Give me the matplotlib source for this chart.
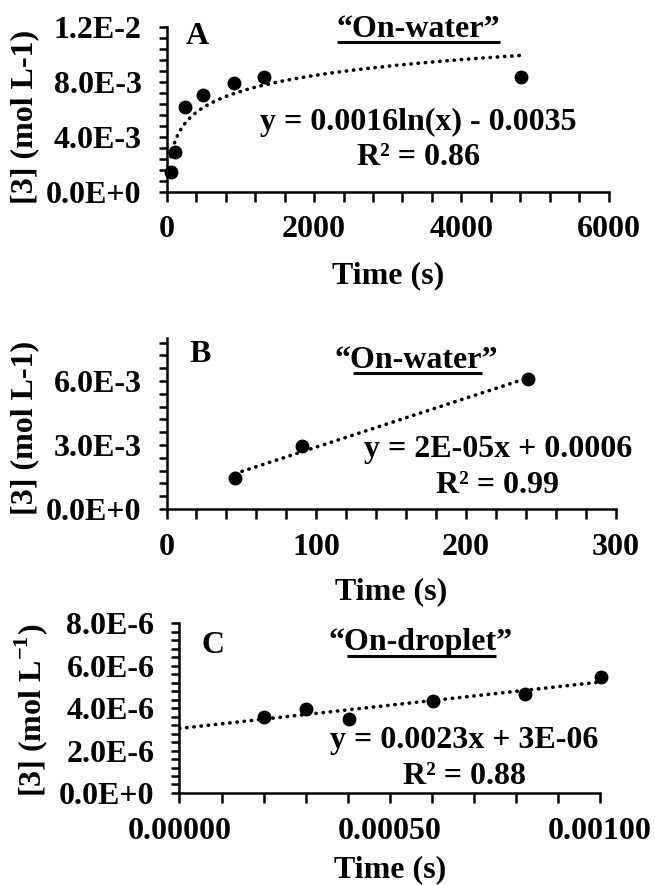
import numpy as np
import matplotlib
matplotlib.use('Agg')
import matplotlib.pyplot as plt
from matplotlib.ticker import MultipleLocator, FuncFormatter, FormatStrFormatter

plt.rcParams['font.family'] = 'Liberation Serif'
plt.rcParams['font.weight'] = 'bold'
plt.rcParams['axes.labelweight'] = 'bold'
plt.rcParams['font.size'] = 23
plt.rcParams['mathtext.fontset'] = 'custom'
plt.rcParams['mathtext.rm'] = 'Liberation Serif:bold'
plt.rcParams['mathtext.bf'] = 'Liberation Serif:bold'

# panel A - "On-water", long times
time_a = [58, 113, 248, 497, 913, 1320, 4808]
conc_a = [1.45e-3, 2.91e-3, 6.18e-3, 7.03e-3, 7.88e-3, 8.32e-3, 8.33e-3]

# panel B - "On-water", short times
time_b = [45.8, 90.5, 241.3]
conc_b = [1.45e-3, 2.95e-3, 6.08e-3]

# panel C - "On-droplet"
time_c = [0.00020, 0.00030, 0.000404, 0.000602, 0.000821, 0.001002]
conc_c = [3.59e-6, 3.98e-6, 3.51e-6, 4.35e-6, 4.66e-6, 5.45e-6]


def sci_label(v, pos):
    m, e = f"{v:.1E}".split('E')
    e = int(e)
    return f"{m}E{'+' if e >= 0 else '-'}{abs(e)}"


def style(ax):
    for s in ['top', 'right']:
        ax.spines[s].set_visible(False)
    for s in ['left', 'bottom']:
        ax.spines[s].set_linewidth(1.8)
    ax.tick_params(axis='both', which='both', direction='out', width=1.8)
    ax.tick_params(axis='x', which='both', length=7, pad=10)
    ax.tick_params(axis='y', which='both', length=6, pad=12)
    ax.yaxis.set_major_formatter(FuncFormatter(sci_label))


def underline(ax, x0, x1, y):
    ax.plot([x0, x1], [y, y], transform=ax.transAxes, color='black',
            lw=2.2, clip_on=False, solid_capstyle='butt')


dots = dict(color='black', lw=2.6, linestyle=(0, (0.1, 1.9)), dash_capstyle='round')
marks = dict(color='black', marker='o', ms=9, linestyle='none', zorder=3, clip_on=False)

fig = plt.figure(figsize=(6.55, 8.85), dpi=100)

#############################################  A  #############################################
ax = fig.add_axes([0.2545, 0.7834, 0.675, 0.1864])
style(ax)
coef = np.polyfit(np.log(time_a), conc_a, 1)
tt = np.linspace(min(time_a), max(time_a), 300)
ax.plot(tt, coef[0] * np.log(tt) + coef[1], **dots)
ax.plot(time_a, conc_a, **marks)
ax.set_xlim(0, 6000)
ax.set_ylim(0, 0.012)
ax.xaxis.set_major_locator(MultipleLocator(2000))
ax.xaxis.set_minor_locator(MultipleLocator(400))
ax.yaxis.set_major_locator(MultipleLocator(0.004))
ax.yaxis.set_minor_locator(MultipleLocator(0.0008))
ax.set_xlabel('Time (s)')
ax.set_ylabel('[3] (mol L-1)')
ax.xaxis.set_label_coords(0.50, -0.42)
ax.yaxis.set_label_coords(-0.289, 0.456)
ax.text(0.0685, 0.895, 'A', transform=ax.transAxes, ha='center', va='baseline')
ax.text(0.569, 0.9376, '\u201cOn-water\u201d', transform=ax.transAxes, ha='center', va='baseline')
underline(ax, 0.3846, 0.7533, 0.909)
ax.text(0.569, 0.374, 'y = 0.0016ln(x) - 0.0035', transform=ax.transAxes, ha='center', va='baseline')
ax.text(0.569, 0.162, 'R\u00b2 = 0.86', transform=ax.transAxes, ha='center', va='baseline')

#############################################  B  #############################################
ax = fig.add_axes([0.2542, 0.4249, 0.686, 0.1929])
style(ax)
coef = np.polyfit(time_b, conc_b, 1)
tt = np.array([min(time_b), max(time_b)])
ax.plot(tt, coef[0] * tt + coef[1], **dots)
ax.plot(time_b, conc_b, **marks)
ax.set_xlim(0, 300)
ax.set_ylim(0, 0.008)
ax.xaxis.set_major_locator(MultipleLocator(100))
ax.xaxis.set_minor_locator(MultipleLocator(20))
ax.yaxis.set_major_locator(MultipleLocator(0.003))
ax.yaxis.set_minor_locator(MultipleLocator(0.0006))
ax.set_xlabel('Time (s)')
ax.set_ylabel('[3] (mol L-1)')
ax.xaxis.set_label_coords(0.50, -0.40)
ax.yaxis.set_label_coords(-0.284, 0.477)
ax.text(0.0745, 0.859, 'B', transform=ax.transAxes, ha='center', va='baseline')
ax.text(0.5557, 0.824, '\u201cOn-water\u201d', transform=ax.transAxes, ha='center', va='baseline')
underline(ax, 0.4142, 0.7019, 0.795)
ax.text(0.737, 0.306, 'y = 2E-05x + 0.0006', transform=ax.transAxes, ha='center', va='baseline')
ax.text(0.737, 0.092, 'R\u00b2 = 0.99', transform=ax.transAxes, ha='center', va='baseline')

#############################################  C  #############################################
ax = fig.add_axes([0.274, 0.104, 0.642, 0.1917])
style(ax)
coef = np.polyfit(time_c, conc_c, 1)
tt = np.array([0, max(time_c)])
ax.plot(tt, coef[0] * tt + coef[1], **dots)
ax.plot(time_c, conc_c, **marks)
ax.set_xlim(0, 0.001)
ax.set_ylim(0, 8e-6)
ax.xaxis.set_major_locator(MultipleLocator(0.0005))
ax.xaxis.set_minor_locator(MultipleLocator(0.0001))
ax.xaxis.set_major_formatter(FormatStrFormatter('%.5f'))
ax.yaxis.set_major_locator(MultipleLocator(2e-6))
ax.yaxis.set_minor_locator(MultipleLocator(4e-7))
ax.set_xlabel('Time (s)')
ax.set_ylabel(r'[3] (mol L$^{\mathbf{-1}}$)')
ax.xaxis.set_label_coords(0.50, -0.365)
ax.yaxis.set_label_coords(-0.308, 0.489)
ax.text(0.0797, 0.823, 'C', transform=ax.transAxes, ha='center', va='baseline')
ax.text(0.573, 0.843, '\u201cOn-droplet\u201d', transform=ax.transAxes, ha='center', va='baseline')
underline(ax, 0.398, 0.753, 0.807)
ax.text(0.6775, 0.263, 'y = 0.0023x + 3E-06', transform=ax.transAxes, ha='center', va='baseline')
ax.text(0.6775, 0.053, 'R\u00b2 = 0.88', transform=ax.transAxes, ha='center', va='baseline')

plt.savefig('out.png', dpi=100)
